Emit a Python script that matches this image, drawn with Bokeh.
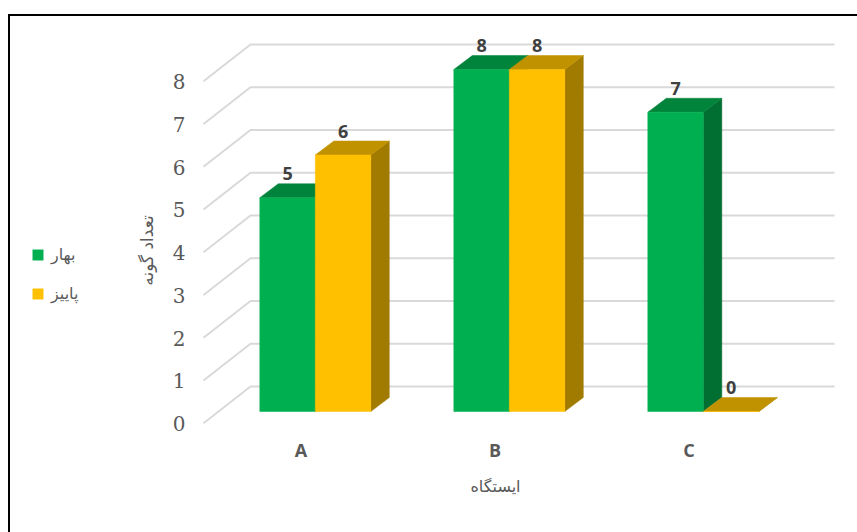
from bokeh.plotting import figure
from bokeh.embed import file_html
from bokeh.resources import INLINE
from bokeh.core.properties import value
from bokeh.models import (LinearAxis, Range1d, FixedTicker, Legend, LegendItem,
                          ColumnDataSource, BoxAnnotation, LabelSet)

categories = ["A", "B", "C"]
spring = [5, 8, 7]
autumn = [6, 8, 0]
y_ticks = [0, 1, 2, 3, 4, 5, 6, 7, 8]
spring_name = "بهار"
autumn_name = "پاییز"
x_title = "ایستگاه"
y_title = "تعداد گونه"

# layout: pixel calibration of the drawing
W, H = 857, 532
X0, XU = 314.8, 194.0
Y0, YU = 411.0, 42.75
def dx(px): return (px - X0) / XU
def dy(py): return (Y0 - py) / YU

BAR_W = 55.5 / XU
BAR_DX, BAR_DY = 18.5 / XU, 14.0 / YU
WALL_L, WALL_B, WALL_R = dx(203), dx(250), dx(834)
WALL_FY, WALL_BY = dy(422.7), dy(386.0)

p = figure(width=W, height=H, output_backend="svg", toolbar_location=None,
           x_axis_type=None, y_axis_type=None,
           x_range=Range1d(dx(0), dx(W)), y_range=Range1d(dy(H), dy(0)),
           min_border=0, outline_line_color=None)
p.grid.visible = False

# walls' gridlines
gx, gy = [], []
for v in y_ticks:
    gx.append([WALL_L, WALL_B, WALL_R])
    gy.append([v + WALL_FY, v + WALL_BY, v + WALL_BY])
p.multi_line(gx, gy, line_color="#d9d9d9", line_width=2)

def bars(values, shift, front, top, side):
    xs = [i + shift for i in range(len(values))]
    src = ColumnDataSource(dict(x=xs, top=values))
    tx, ty, sx, sy = [], [], [], []
    for x, v in zip(xs, values):
        l, r = x - BAR_W / 2, x + BAR_W / 2
        tx.append([l, r, r + BAR_DX, l + BAR_DX])
        ty.append([v, v, v + BAR_DY, v + BAR_DY])
        sx.append([r, r + BAR_DX, r + BAR_DX, r])
        sy.append([0, BAR_DY, v + BAR_DY, v])
    p.patches(sx, sy, fill_color=side, line_color=side, line_width=0.5)
    p.patches(tx, ty, fill_color=top, line_color=top, line_width=0.5)
    r = p.vbar(x="x", top="top", bottom=0, width=BAR_W, source=src,
               fill_color=front, line_color=front, line_width=0.5)
    labels = LabelSet(x="x", y="top", text="top", source=src, y_offset=24,
                      text_align="center", text_baseline="middle",
                      text_font=value("Open Sans"), text_font_style="bold",
                      text_font_size="18px", text_color="#404040")
    return r, labels

r1, l1 = bars(spring, -BAR_W / 2, "#00B050", "#00843C", "#006F31")
r2, l2 = bars(autumn, BAR_W / 2, "#FFC000", "#C19200", "#A17B00")
p.add_layout(l1)
p.add_layout(l2)

# axes
p.extra_y_ranges["wall"] = Range1d((423.2 - H) / YU, 423.2 / YU)
p.extra_x_ranges["cats"] = Range1d((0 - 300.5) / XU, (W - 300.5) / XU)
ya = LinearAxis(y_range_name="wall", ticker=FixedTicker(ticks=y_ticks),
                fixed_location=dx(194), bounds=(0, 8.1), axis_label=y_title)
ya.axis_line_color = None
ya.major_tick_line_color = None
ya.minor_tick_line_color = None
ya.major_label_standoff = 3
ya.major_label_text_font = "DejaVu Serif"
ya.major_label_text_font_size = "20px"
ya.major_label_text_color = "#595959"
ya.axis_label_standoff = 13
ya.axis_label_text_font = "DejaVu Sans"
ya.axis_label_text_font_style = "normal"
ya.axis_label_text_font_size = "17px"
ya.axis_label_text_color = "#595959"
p.add_layout(ya, "left")

xa = LinearAxis(x_range_name="cats", ticker=FixedTicker(ticks=list(range(len(categories)))),
                fixed_location=dy(431.5), bounds=(0, len(categories) - 1), axis_label=x_title)
xa.major_label_overrides = {i: c for i, c in enumerate(categories)}
xa.axis_line_color = None
xa.major_tick_line_color = None
xa.minor_tick_line_color = None
xa.major_label_standoff = 0
xa.major_label_text_font = "Open Sans"
xa.major_label_text_font_style = "bold"
xa.major_label_text_font_size = "18px"
xa.major_label_text_color = "#595959"
xa.axis_label_standoff = 11
xa.axis_label_text_font = "DejaVu Sans"
xa.axis_label_text_font_style = "normal"
xa.axis_label_text_font_size = "16px"
xa.axis_label_text_color = "#595959"
p.add_layout(xa, "below")

# legend
leg = Legend(items=[LegendItem(label=spring_name, renderers=[r1]),
                    LegendItem(label=autumn_name, renderers=[r2])],
             location=(31, 229), orientation="vertical", spacing=20,
             glyph_width=13, glyph_height=13, label_standoff=7,
             padding=0, margin=0, border_line_color=None, background_fill_alpha=0,
             label_text_font="DejaVu Sans", label_text_font_size="16px", label_text_color="#595959")
p.add_layout(leg, "center")

# chart frame
p.add_layout(BoxAnnotation(left=dx(7.5), right=dx(9.5), top=dy(13.5), bottom=dy(H),
                           fill_color="black", fill_alpha=1, line_color=None, level="overlay"))
p.add_layout(BoxAnnotation(left=dx(7.5), right=dx(W), top=dy(13.5), bottom=dy(15.5),
                           fill_color="black", fill_alpha=1, line_color=None, level="overlay"))

open("out.html", "w").write(file_html(p, INLINE))
